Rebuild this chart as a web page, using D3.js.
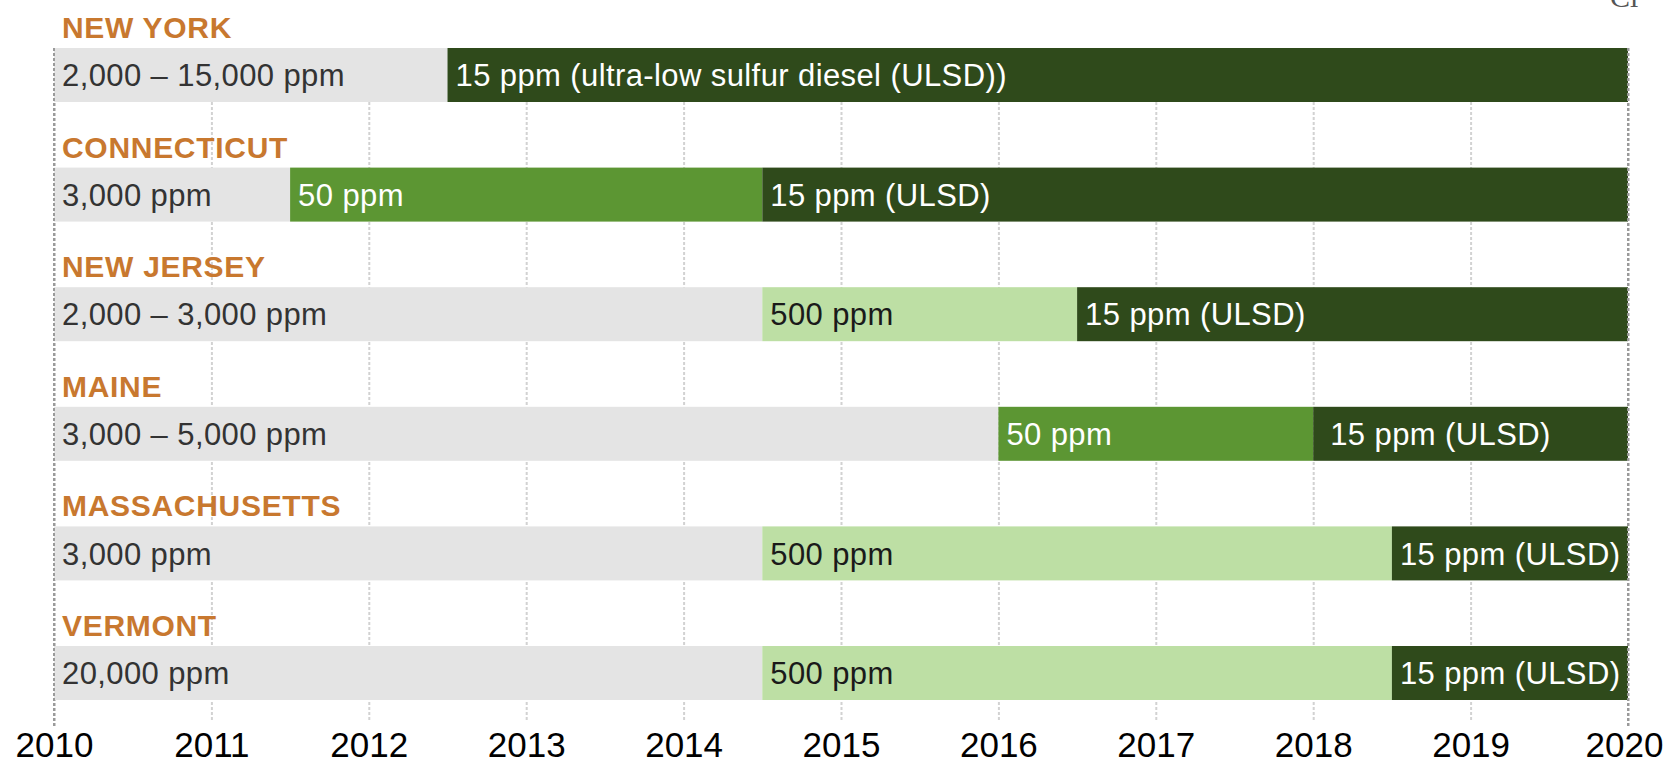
<!DOCTYPE html>
<html>
<head>
<meta charset="utf-8">
<script src="https://cdn.jsdelivr.net/npm/d3@7"></script>
<style>
    body { margin: 0; background: #fff; }
    svg { display: block; font-family: "Liberation Sans", Arial, sans-serif; }
</style>
</head>
<body>
<div id="chart"></div>
<script>
const width = 1665;
const height = 765;

// sulfur limits by state
const states = ['NEW YORK', 'CONNECTICUT', 'NEW JERSEY', 'MAINE', 'MASSACHUSETTS', 'VERMONT'];
const segmentStarts = [
    [2010, 2012.5],
    [2010, 2011.5, 2014.5],
    [2010, 2014.5, 2016.5],
    [2010, 2016, 2018],
    [2010, 2014.5, 2018.5],
    [2010, 2014.5, 2018.5]
];
const segmentLevels = [
    ['old', '15'],
    ['old', '50', '15'],
    ['old', '500', '15'],
    ['old', '50', '15'],
    ['old', '500', '15'],
    ['old', '500', '15']
];
const segmentLabels = [
    ['2,000 – 15,000 ppm', '15 ppm (ultra-low sulfur diesel (ULSD))'],
    ['3,000 ppm', '50 ppm', '15 ppm (ULSD)'],
    ['2,000 – 3,000 ppm', '500 ppm', '15 ppm (ULSD)'],
    ['3,000 – 5,000 ppm', '50 ppm', '\u00a015 ppm (ULSD)'],
    ['3,000 ppm', '500 ppm', '15 ppm (ULSD)'],
    ['20,000 ppm', '500 ppm', '15 ppm (ULSD)']
];
const endYear = 2020;
const yearTicks = [2010, 2011, 2012, 2013, 2014, 2015, 2016, 2017, 2018, 2019, 2020];

const fillColors = { old: '#e4e4e4', '500': '#bddfa4', '50': '#5c9633', '15': '#2f4a1b' };
const textColors = { old: '#333', '500': '#1a1a1a', '50': '#fff', '15': '#fff' };

function chartBuilder() {
    const svg = d3.select('#chart')
        .append('svg')
        .attr('width', width)
        .attr('height', height);

    const xScale = d3.scaleLinear()
        .domain([2010, endYear])
        .range([54, 1628]);

    const yScale = d3.scaleBand()
        .domain(states)
        .range([48, 48 + states.length * 119.6]);
    const barHeight = 54;
    const gridBottom = 720;

    // cut-off heading fragment in the corner
    svg.append('text')
        .attr('x', 1610)
        .attr('y', 7)
        .style('font-family', '"Liberation Serif", serif')
        .style('font-size', '30px')
        .style('fill', '#555')
        .text('Cl');

    // dashed year gridlines
    const grid = svg.append('g')
        .attr('transform', `translate(0, ${gridBottom})`)
        .call(d3.axisBottom(xScale).tickValues(yearTicks).tickSize(-(gridBottom - 48)).tickFormat(''));
    grid.select('.domain').remove();
    grid.selectAll('.tick line')
        .attr('stroke', d => (d === 2010 || d === endYear) ? '#9a9a9a' : '#d2d2d2')
        .attr('stroke-width', 2)
        .attr('stroke-dasharray', '3,2')
        .attr('y1', d => (d === 2010 || d === endYear) ? 6 : 0);

    const rows = svg.selectAll('.row')
        .data(states)
        .enter()
        .append('g')
        .attr('class', 'row')
        .attr('transform', d => `translate(0, ${yScale(d)})`);

    rows.append('text')
        .attr('x', 62)
        .attr('y', -10)
        .style('font-size', '30px')
        .style('font-weight', 'bold')
        .style('letter-spacing', '0.7px')
        .style('fill', '#c8782f')
        .text(d => d);

    rows.each(function(state, i) {
        const starts = segmentStarts[i];
        const segs = starts.map((s, j) => ({
            start: s,
            end: j < starts.length - 1 ? starts[j + 1] : endYear,
            level: segmentLevels[i][j],
            label: segmentLabels[i][j]
        }));
        const row = d3.select(this);

        row.selectAll('rect')
            .data(segs)
            .enter()
            .append('rect')
            .attr('x', d => xScale(d.start))
            .attr('y', 0)
            .attr('width', d => xScale(d.end) - xScale(d.start))
            .attr('height', barHeight)
            .attr('fill', d => fillColors[d.level]);

        row.selectAll('text.seg')
            .data(segs)
            .enter()
            .append('text')
            .attr('class', 'seg')
            .attr('x', d => xScale(d.start) + 8)
            .attr('y', barHeight / 2)
            .attr('dy', '0.36em')
            .style('font-size', '31px')
            .style('letter-spacing', '0.4px')
            .style('fill', d => textColors[d.level])
            .text(d => d.label);
    });

    // redraw edge lines over the bars
    svg.append('g').selectAll('line')
        .data([2010, endYear])
        .enter()
        .append('line')
        .attr('x1', d => xScale(d))
        .attr('x2', d => xScale(d))
        .attr('y1', 48)
        .attr('y2', gridBottom + 6)
        .attr('stroke', '#9a9a9a')
        .attr('stroke-width', 2)
        .attr('stroke-dasharray', '3,2');

    const years = svg.append('g')
        .attr('transform', `translate(0, ${gridBottom})`)
        .call(d3.axisBottom(xScale).tickValues(yearTicks).tickSize(0).tickPadding(12).tickFormat(d3.format('d')));
    years.select('.domain').remove();
    years.selectAll('text')
        .style('font-family', '"Liberation Sans", Arial, sans-serif')
        .style('font-size', '35px')
        .style('fill', '#000')
        .attr('dx', d => d === endYear ? -4 : 0);
}

document.addEventListener('DOMContentLoaded', () => chartBuilder());
</script>
</body>
</html>
